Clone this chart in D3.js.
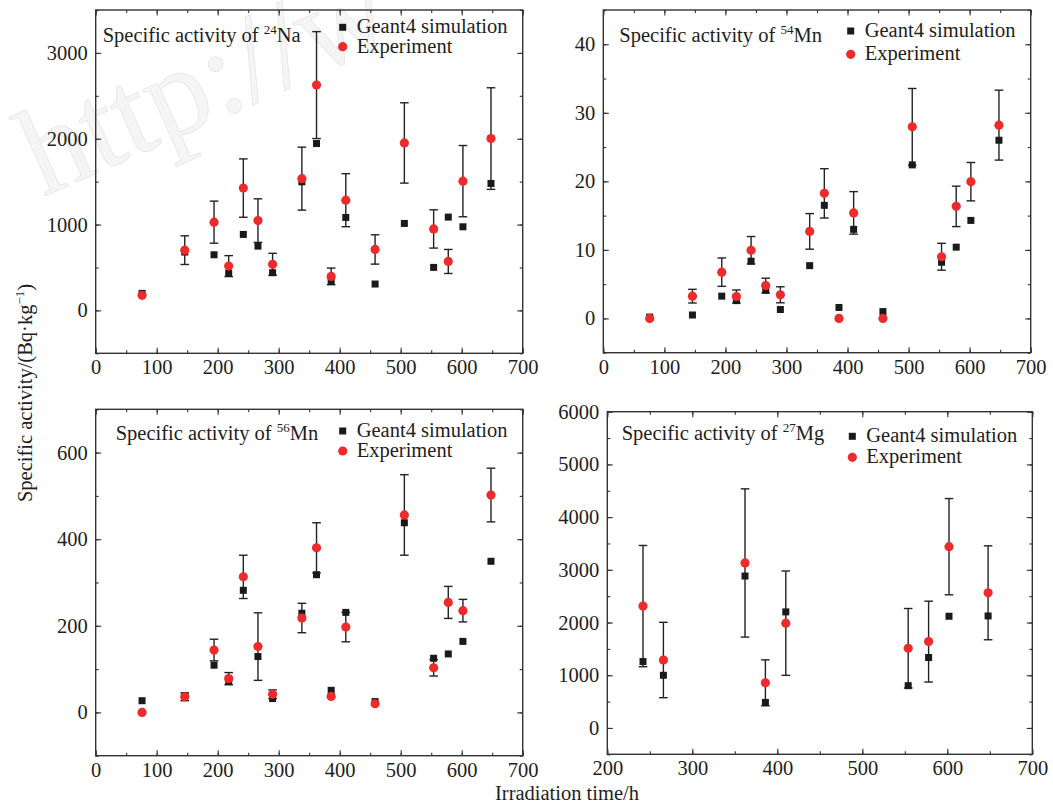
<!DOCTYPE html>
<html>
<head>
<meta charset="utf-8">
<script src="https://cdn.jsdelivr.net/npm/d3@7"></script>
<style>
  html, body { margin: 0; padding: 0; background: #fff; }
  svg { display: block; }
  text { font-family: "Liberation Serif", "Times New Roman", serif; fill: #1e1e1e; }
</style>
</head>
<body>
<svg id="chart" width="1053" height="812"></svg>
<script>
// Irradiation times (h)
const times   = [76, 146, 194, 218, 242, 266, 290, 338, 362, 386, 410, 458, 506, 554, 578, 602, 648];
const timesMg = [242, 266, 362, 386, 410, 554, 578, 602, 648];

// Specific activity of 24Na (Bq/kg)
const na24Sim = [198, 680, 648, 431, 885, 749, 439, 1498, 1944, 341, 1083, 307, 1013, 501, 1087, 974, 1479];
const na24Exp = [175, 702, 1028, 516, 1425, 1046, 537, 1535, 2625, 396, 1284, 710, 1951, 949, 570, 1506, 2002];
const na24Err = [0, 167, 245, 122, 340, 254, 128, 367, 623, 97, 309, 171, 468, 223, 140, 415, 592];

// Specific activity of 54Mn (Bq/kg)
const mn54Sim = [0.2, 0.5, 3.25, 2.6, 8.35, 4.1, 1.3, 7.7, 16.5, 1.6, 13.0, 1.0, 22.4, 8.2, 10.4, 14.3, 26.0];
const mn54Exp = [0, 3.25, 6.75, 3.2, 9.95, 4.8, 3.45, 12.7, 18.25, 0, 15.4, 0, 27.95, 9.0, 16.35, 19.95, 28.2];
const mn54Err = [0, 1.0, 2.07, 0.95, 2.0, 1.07, 1.17, 2.6, 3.6, 0, 3.1, 0, 5.6, 1.96, 2.95, 2.8, 5.1];

// Specific activity of 56Mn (Bq/kg)
const mn56Sim = [27, 38, 109, 71, 282, 129, 32, 229, 318, 51, 231, 25, 438, 125, 135, 164, 349];
const mn56Exp = [0, 36, 144, 78, 313, 152, 42, 218, 380, 37, 197, 20, 456, 103, 254, 235, 502];
const mn56Err = [0, 9, 25, 14, 50, 78, 10, 34, 58, 0, 34, 0, 93, 19, 37, 26, 62];

// Specific activity of 27Mg (Bq/kg)
const mg27Sim = [1260, 999, 2882, 484, 2202, 802, 1336, 2119, 2125];
const mg27Exp = [2312, 1289, 3130, 856, 1988, 1512, 1638, 3439, 2564];
const mg27Err = [1150, 715, 1406, 436, 990, 754, 767, 913, 891];

// Tick labels
const xTicksFull = [0, 100, 200, 300, 400, 500, 600, 700];
const xTicksMg   = [200, 300, 400, 500, 600, 700];
const na24Ticks  = [0, 1000, 2000, 3000];
const mn54Ticks  = [0, 10, 20, 30, 40];
const mn56Ticks  = [0, 200, 400, 600];
const mg27Ticks  = [0, 1000, 2000, 3000, 4000, 5000, 6000];

const legendNames = ["Geant4 simulation", "Experiment"];
const SIM_COLOR = "#1a1a1a";
const EXP_COLOR = "#ee2a2a";
const AXIS_COLOR = "#333";
const FONT = 20.5;

const svg = d3.select("#chart");

// faint background watermark
svg.append("text")
  .attr("transform", "translate(43,197) rotate(-24)")
  .attr("font-size", 125)
  .style("fill", "#f5f5f5")
  .style("stroke", "#e4e4e4")
  .style("stroke-width", 0.7)
  .text("http://w");

const panels = [
  { mass: "24", sym: "Na", t: times, sim: na24Sim, exp: na24Exp, err: na24Err,
    left: 95.7, right: 522.7, top: 10, bottom: 353.3,
    xDom: [0, 700], yDom: [-500, 3500], xTicks: xTicksFull, yTicks: na24Ticks,
    xMinor: 50, yMinor: 500,
    titleDx: 7, titleDy: 31.7, legDy: 17.3, legGap: 19.4 },
  { mass: "54", sym: "Mn", t: times, sim: mn54Sim, exp: mn54Exp, err: mn54Err,
    left: 603.3, right: 1030.7, top: 10, bottom: 352.7,
    xDom: [0, 700], yDom: [-5, 45], xTicks: xTicksFull, yTicks: mn54Ticks,
    xMinor: 50, yMinor: 5,
    titleDx: 16, titleDy: 31.7, legDy: 21, legGap: 23.3 },
  { mass: "56", sym: "Mn", t: times, sim: mn56Sim, exp: mn56Exp, err: mn56Err,
    left: 95.7, right: 522.7, top: 409.3, bottom: 755.7,
    xDom: [0, 700], yDom: [-100, 700], xTicks: xTicksFull, yTicks: mn56Ticks,
    xMinor: 50, yMinor: 100,
    titleDx: 20, titleDy: 30.7, legDy: 21.7, legGap: 20 },
  { mass: "27", sym: "Mg", t: timesMg, sim: mg27Sim, exp: mg27Exp, err: mg27Err,
    left: 607.3, right: 1032.3, top: 411.7, bottom: 754.3,
    xDom: [200, 700], yDom: [-500, 6000], xTicks: xTicksMg, yTicks: mg27Ticks,
    xMinor: 50, yMinor: 500,
    titleDx: 14.4, titleDy: 28.3, legDy: 24.6, legGap: 21 }
];

function rangeInside(dom, step) {
  const start = Math.ceil(dom[0] / step) * step;
  return d3.range(start, dom[1] + step / 2, step);
}

function styleAxis(sel) {
  sel.select(".domain").remove();
  sel.attr("color", AXIS_COLOR);
  sel.selectAll("line").attr("stroke-width", 1.1);
  sel.selectAll("text")
    .attr("font-size", FONT)
    .attr("font-family", '"Liberation Serif","Times New Roman",serif')
    .style("fill", "#1e1e1e");
}

function drawPanel(p) {
  const x = d3.scaleLinear().domain(p.xDom).range([p.left, p.right]);
  const y = d3.scaleLinear().domain(p.yDom).range([p.bottom, p.top]);
  const g = svg.append("g");

  const xMinorVals = rangeInside(p.xDom, p.xMinor);
  const yMinorVals = rangeInside(p.yDom, p.yMinor);

  // minor ticks on all four sides
  g.append("g").attr("transform", `translate(0,${p.bottom})`)
    .call(d3.axisBottom(x).tickValues(xMinorVals).tickSize(-3).tickFormat("")).call(styleAxis);
  g.append("g").attr("transform", `translate(0,${p.top})`)
    .call(d3.axisTop(x).tickValues(xMinorVals).tickSize(-3).tickFormat("")).call(styleAxis);
  g.append("g").attr("transform", `translate(${p.left},0)`)
    .call(d3.axisLeft(y).tickValues(yMinorVals).tickSize(-3).tickFormat("")).call(styleAxis);
  g.append("g").attr("transform", `translate(${p.right},0)`)
    .call(d3.axisRight(y).tickValues(yMinorVals).tickSize(-3).tickFormat("")).call(styleAxis);

  // major ticks with labels (bottom, left), mirrored without labels (top, right)
  g.append("g").attr("transform", `translate(0,${p.bottom})`)
    .call(d3.axisBottom(x).tickValues(p.xTicks).tickSize(-5.5).tickPadding(6.5).tickFormat(d3.format("d")))
    .call(styleAxis);
  g.append("g").attr("transform", `translate(0,${p.top})`)
    .call(d3.axisTop(x).tickValues(p.xTicks).tickSize(-5.5).tickFormat("")).call(styleAxis);
  g.append("g").attr("transform", `translate(${p.left},0)`)
    .call(d3.axisLeft(y).tickValues(p.yTicks).tickSize(-5.5).tickPadding(8).tickFormat(d3.format("d")))
    .call(styleAxis);
  g.append("g").attr("transform", `translate(${p.right},0)`)
    .call(d3.axisRight(y).tickValues(p.yTicks).tickSize(-5.5).tickFormat("")).call(styleAxis);

  // frame
  g.append("rect")
    .attr("x", p.left).attr("y", p.top)
    .attr("width", p.right - p.left).attr("height", p.bottom - p.top)
    .attr("fill", "none").attr("stroke", AXIS_COLOR).attr("stroke-width", 1.4);

  const rows = p.t.map((t, i) => ({ t, sim: p.sim[i], exp: p.exp[i], err: p.err[i] }));

  // error bars on the experimental values
  const eb = g.append("g").attr("stroke", "#222").attr("stroke-width", 1.4);
  rows.filter(d => d.err > 0).forEach(d => {
    const cx = x(d.t), y1 = y(d.exp - d.err), y2 = y(d.exp + d.err);
    eb.append("line").attr("x1", cx).attr("x2", cx).attr("y1", y1).attr("y2", y2);
    eb.append("line").attr("x1", cx - 4.3).attr("x2", cx + 4.3).attr("y1", y1).attr("y2", y1);
    eb.append("line").attr("x1", cx - 4.3).attr("x2", cx + 4.3).attr("y1", y2).attr("y2", y2);
  });

  // simulation (squares)
  g.append("g").selectAll("rect").data(rows).join("rect")
    .attr("x", d => x(d.t) - 3.5).attr("y", d => y(d.sim) - 3.5)
    .attr("width", 7).attr("height", 7).attr("fill", SIM_COLOR);

  // experiment (circles)
  g.append("g").selectAll("circle").data(rows).join("circle")
    .attr("cx", d => x(d.t)).attr("cy", d => y(d.exp)).attr("r", 4.6)
    .attr("fill", EXP_COLOR);

  // panel title with superscript mass number
  const title = g.append("text")
    .attr("x", p.left + p.titleDx).attr("y", p.top + p.titleDy)
    .attr("font-size", FONT);
  title.append("tspan").text("Specific activity of ");
  title.append("tspan").attr("font-size", 13).attr("dy", -8).text(p.mass);
  title.append("tspan").attr("dy", 8).text(p.sym);

  // legend: markers plus one two-line text block
  const lx = p.right - 180;
  const ly = p.top + p.legDy;
  g.append("rect").attr("x", lx - 3.5).attr("y", ly - 3.5).attr("width", 7).attr("height", 7)
    .attr("fill", SIM_COLOR);
  g.append("circle").attr("cx", lx).attr("cy", ly + p.legGap).attr("r", 4.6).attr("fill", EXP_COLOR);
  const legText = g.append("text").attr("x", lx + 14).attr("y", ly + 6).attr("font-size", FONT);
  legendNames.forEach((name, i) => {
    legText.append("tspan").attr("x", lx + 14).attr("dy", i === 0 ? 0 : p.legGap).text(name);
  });
}

panels.forEach(drawPanel);

// shared axis titles
const yTitle = svg.append("text")
  .attr("transform", "translate(32,393) rotate(-90)")
  .attr("text-anchor", "middle")
  .attr("font-size", FONT);
yTitle.append("tspan").text("Specific activity/(Bq\u00b7kg");
yTitle.append("tspan").attr("font-size", 13).attr("dy", -8).text("\u22121");
yTitle.append("tspan").attr("dy", 8).text(")");

svg.append("text")
  .attr("x", 567).attr("y", 800)
  .attr("text-anchor", "middle")
  .attr("font-size", FONT)
  .text("Irradiation time/h");
</script>
</body>
</html>
